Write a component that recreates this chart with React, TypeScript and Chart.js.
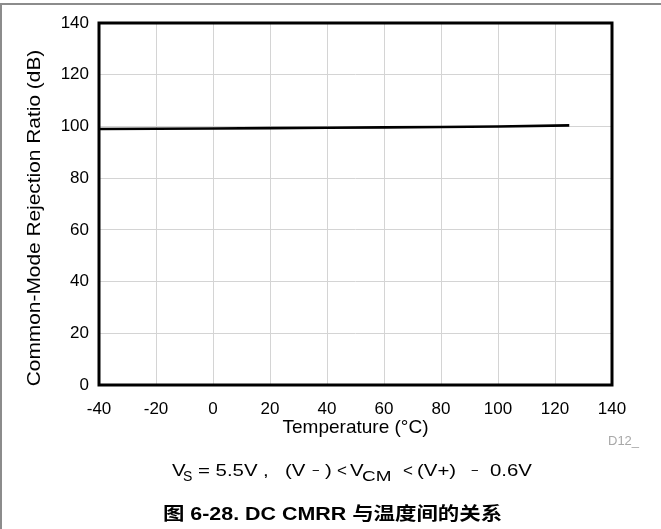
import React, { useEffect, useRef } from "react";
import { Chart, registerables } from "chart.js";

Chart.register(...registerables);

const temperatures = [-40, -20, 0, 20, 40, 60, 80, 100, 125];
const cmrrValues = [99.0, 99.1, 99.2, 99.35, 99.5, 99.65, 99.8, 100.0, 100.4];
const xTitle = "Temperature (°C)";
const yTitle = "Common-Mode Rejection Ratio (dB)";

const FONT = "'Liberation Sans', Arial, Helvetica, sans-serif";

const framePlugin = {
  id: "frame",
  afterDraw(chart: any) {
    const { ctx, chartArea } = chart;
    ctx.save();
    ctx.strokeStyle = "#000";
    ctx.lineWidth = 3;
    ctx.strokeRect(chartArea.left, chartArea.top, chartArea.right - chartArea.left, chartArea.bottom - chartArea.top);
    // y-axis title, stretched along its length like the reference
    ctx.translate(35, 218);
    ctx.rotate(-Math.PI / 2);
    ctx.scale(1.16, 1);
    ctx.fillStyle = "#000";
    ctx.font = "18px " + FONT;
    ctx.textAlign = "center";
    ctx.textBaseline = "middle";
    ctx.fillText(yTitle, 0, 0);
    ctx.restore();
  },
};

const seg = (left: number, text: string, extra: any = {}) => (
  <span
    style={{
      position: "absolute",
      left,
      top: 461.6,
      fontFamily: FONT,
      fontSize: 17,
      lineHeight: "17px",
      whiteSpace: "nowrap",
      transform: "scaleX(1.2)",
      transformOrigin: "0 0",
      ...extra,
    }}
  >
    {text}
  </span>
);

export default function App() {
  const ref = useRef<HTMLCanvasElement | null>(null);
  useEffect(() => {
    if (!ref.current) return;
    const chart = new Chart(ref.current, {
      type: "line",
      data: {
        datasets: [
          {
            data: temperatures.map((t, i) => ({ x: t, y: cmrrValues[i] })),
            borderColor: "#000",
            borderWidth: 2.6,
            pointRadius: 0,
            tension: 0,
          },
        ],
      },
      options: {
        animation: false,
        responsive: false,
        maintainAspectRatio: false,
        layout: { padding: { left: 0, top: 23, right: 49, bottom: 88 } },
        plugins: { legend: { display: false }, tooltip: { enabled: false } },
        scales: {
          x: {
            type: "linear",
            min: -40,
            max: 140,
            afterFit: (s: any) => {
              s.height = 56;
            },
            ticks: { stepSize: 20, color: "#000", font: { family: FONT, size: 17 }, padding: 14, maxRotation: 0 },
            grid: { color: "#d4d4d4", lineWidth: 1, drawTicks: false },
            border: { display: false },
            title: { display: true, text: xTitle, color: "#000", font: { family: FONT, size: 19 }, padding: { top: 0, bottom: 1.5 } },
          },
          y: {
            min: 0,
            max: 140,
            afterFit: (s: any) => {
              s.width = 99;
            },
            ticks: { stepSize: 20, color: "#000", font: { family: FONT, size: 17 }, padding: 10 },
            grid: { color: "#d4d4d4", lineWidth: 1, drawTicks: false },
            border: { display: false },
            title: { display: false },
          },
        },
      },
      plugins: [framePlugin],
    });
    return () => chart.destroy();
  }, []);

  return (
    <div style={{ position: "absolute", left: 0, top: 0, width: 661, height: 529, background: "#fff", overflow: "hidden", color: "#000" }}>
      <canvas ref={ref} width={661} height={529} style={{ position: "absolute", left: 0, top: 0 }} />
      <div style={{ position: "absolute", left: 0, top: 3, width: 661, height: 2, background: "#8c8c8c" }} />
      <div style={{ position: "absolute", left: 0, top: 3, width: 2, height: 526, background: "#8c8c8c" }} />
      <div style={{ position: "absolute", left: 608, top: 434, fontFamily: FONT, fontSize: 13, lineHeight: "13px", color: "#a8a8a8", whiteSpace: "nowrap" }}>
        D12_
      </div>
      {seg(171.7, "V")}
      {seg(183, "S", { fontSize: 14, top: 468, transform: "none" })}
      {seg(198, "= 5.5V")}
      {seg(263, ",")}
      {seg(285, "(V")}
      {seg(312, "−", { fontSize: 13, top: 462, transform: "none" })}
      {seg(325, ")")}
      {seg(337, "<", { transform: "none" })}
      {seg(350, "V")}
      {seg(362, "CM", { fontSize: 14, top: 467.5, transform: "scaleX(1.35)" })}
      {seg(403, "<", { transform: "none" })}
      {seg(417, "(V+)")}
      {seg(471, "−", { fontSize: 13, top: 462, transform: "none" })}
      {seg(490, "0.6V")}
      <div
        style={{
          position: "absolute",
          left: 2,
          width: 661,
          top: 504.8,
          textAlign: "center",
          fontFamily: FONT + ", 'Noto Sans CJK SC'",
          fontWeight: "bold",
          fontSize: 18,
          lineHeight: "18px",
          whiteSpace: "nowrap",
          transform: "scaleX(1.19)",
          transformOrigin: "330.5px 0",
        }}
      >
        图 6-28. DC CMRR 与温度间的关系
      </div>
    </div>
  );
}
